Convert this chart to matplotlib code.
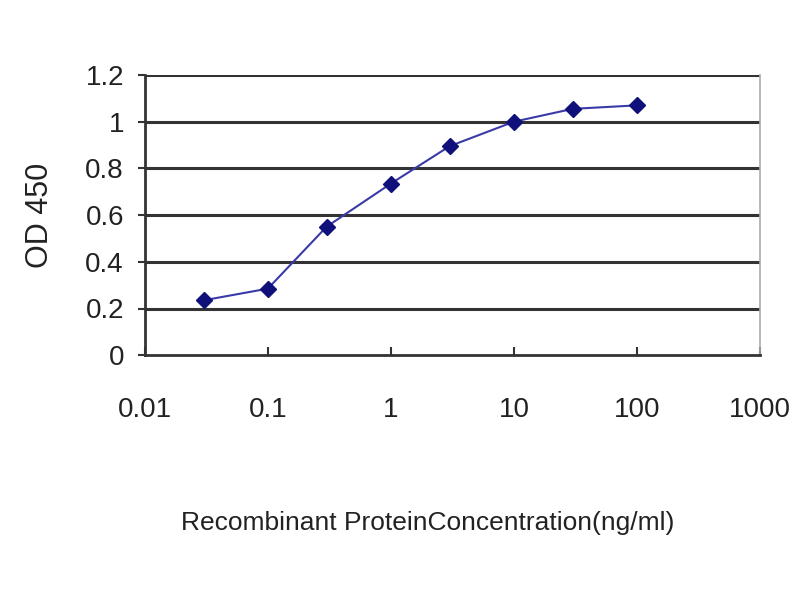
import matplotlib
matplotlib.use("Agg")
import matplotlib.pyplot as plt

plt.rcParams['font.family'] = ['Liberation Sans', 'DejaVu Sans']

# data
conc = [0.03, 0.1, 0.3, 1, 3, 10, 30, 100]
od450 = [0.235, 0.285, 0.55, 0.735, 0.895, 1.0, 1.055, 1.07]

xticks = [0.01, 0.1, 1, 10, 100, 1000]
xtick_labels = ['0.01', '0.1', '1', '10', '100', '1000']
yticks = [0, 0.2, 0.4, 0.6, 0.8, 1, 1.2]
ytick_labels = ['0', '0.2', '0.4', '0.6', '0.8', '1', '1.2']

fig = plt.figure(figsize=(8, 6), dpi=100)
ax = fig.add_axes([0.181, 0.408, 0.769, 0.467])

for y in yticks[1:]:
    ax.axhline(y, color='#333333', lw=2.2, zorder=1)

ax.plot(conc, od450, color='#3a3aa8', lw=1.5, marker='D', ms=8,
        mfc='#10107a', mec='#10107a', zorder=3)

ax.set_xscale('log')
ax.set_xlim(0.01, 1000)
ax.set_ylim(0, 1.2)
ax.set_xticks(xticks)
ax.set_xticklabels(xtick_labels)
ax.minorticks_off()
ax.set_yticks(yticks)
ax.set_yticklabels(ytick_labels)

ax.spines['left'].set_color('#333333')
ax.spines['left'].set_linewidth(2)
ax.spines['bottom'].set_color('#333333')
ax.spines['bottom'].set_linewidth(2)
ax.spines['right'].set_color('#aaaaaa')
ax.spines['right'].set_linewidth(1.2)
ax.spines['top'].set_visible(False)

ax.tick_params(axis='x', direction='in', length=6, width=1.5, pad=30,
               labelsize=20, colors='#333333', labelcolor='#222222')
ax.tick_params(axis='y', direction='out', length=5, width=1.5, pad=10,
               labelsize=20, colors='#333333', labelcolor='#222222')

ax.set_ylabel('OD 450', fontsize=22, color='#222222', labelpad=22)
fig.text(0.535, 0.128, 'Recombinant ProteinConcentration(ng/ml)', ha='center',
         va='center', fontsize=19, color='#222222')

fig.savefig('out.png', dpi=100)
